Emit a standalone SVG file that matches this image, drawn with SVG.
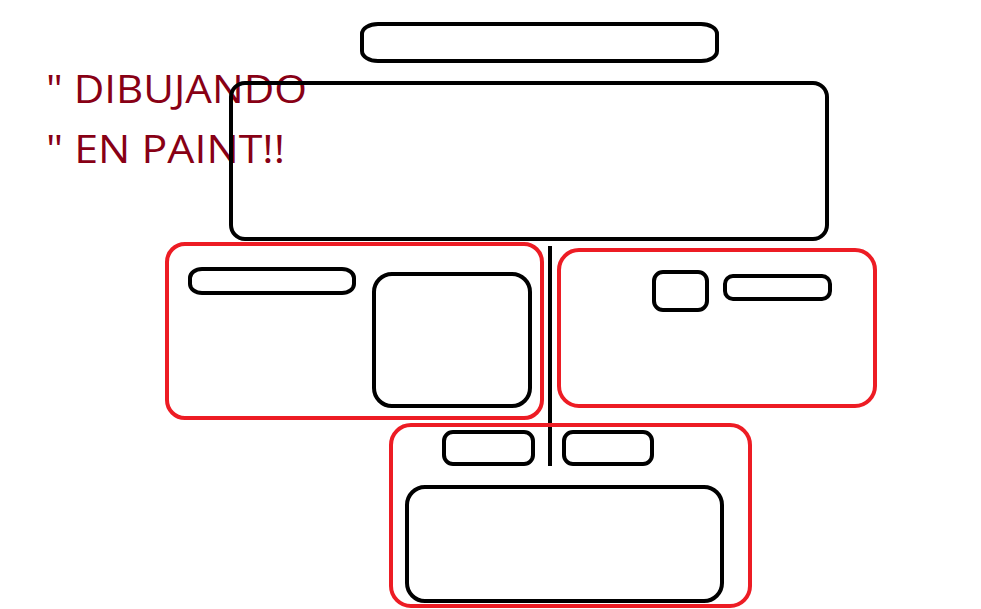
<svg xmlns="http://www.w3.org/2000/svg" width="981" height="609" viewBox="0 0 981 609">
<style>
.k{fill:none;stroke:#000;stroke-width:4}
.r{fill:none;stroke:#ED1C24;stroke-width:4}
.t{font-family:"Open Sans","Liberation Sans",sans-serif;font-size:39px;fill:#880015}
</style>
<rect width="981" height="609" fill="#fff"/>
<g id="title-text">
<text class="t" x="46" y="103" textLength="261" lengthAdjust="spacingAndGlyphs">" DIBUJANDO</text>
<text class="t" x="46" y="163" textLength="239" lengthAdjust="spacingAndGlyphs">" EN PAINT!!</text>
</g>
<g id="top-pill"><rect class="k" x="362" y="24" width="355" height="37" rx="16" ry="10"/></g>
<g id="main-box"><rect class="k" x="231" y="83" width="596" height="156" rx="14"/></g>
<g id="connectors"><line class="k" x1="550" y1="246" x2="550" y2="466"/></g>
<g id="left-panel">
<rect class="r" x="167" y="244" width="375" height="174" rx="18"/>
<rect class="k" x="190" y="269" width="164" height="24" rx="12" ry="9"/>
<rect class="k" x="374" y="274" width="156" height="132" rx="18"/>
</g>
<g id="right-panel">
<rect class="r" x="559" y="250" width="316" height="156" rx="20"/>
<rect class="k" x="654" y="272" width="53" height="38" rx="9"/>
<rect class="k" x="725" y="276" width="105" height="23" rx="8"/>
</g>
<g id="bottom-panel">
<rect class="r" x="391" y="425" width="359" height="181" rx="20"/>
<rect class="k" x="444" y="432" width="89" height="32" rx="9"/>
<rect class="k" x="564" y="432" width="88" height="32" rx="9"/>
<rect class="k" x="407" y="487" width="315" height="114" rx="18"/>
</g>
</svg>
